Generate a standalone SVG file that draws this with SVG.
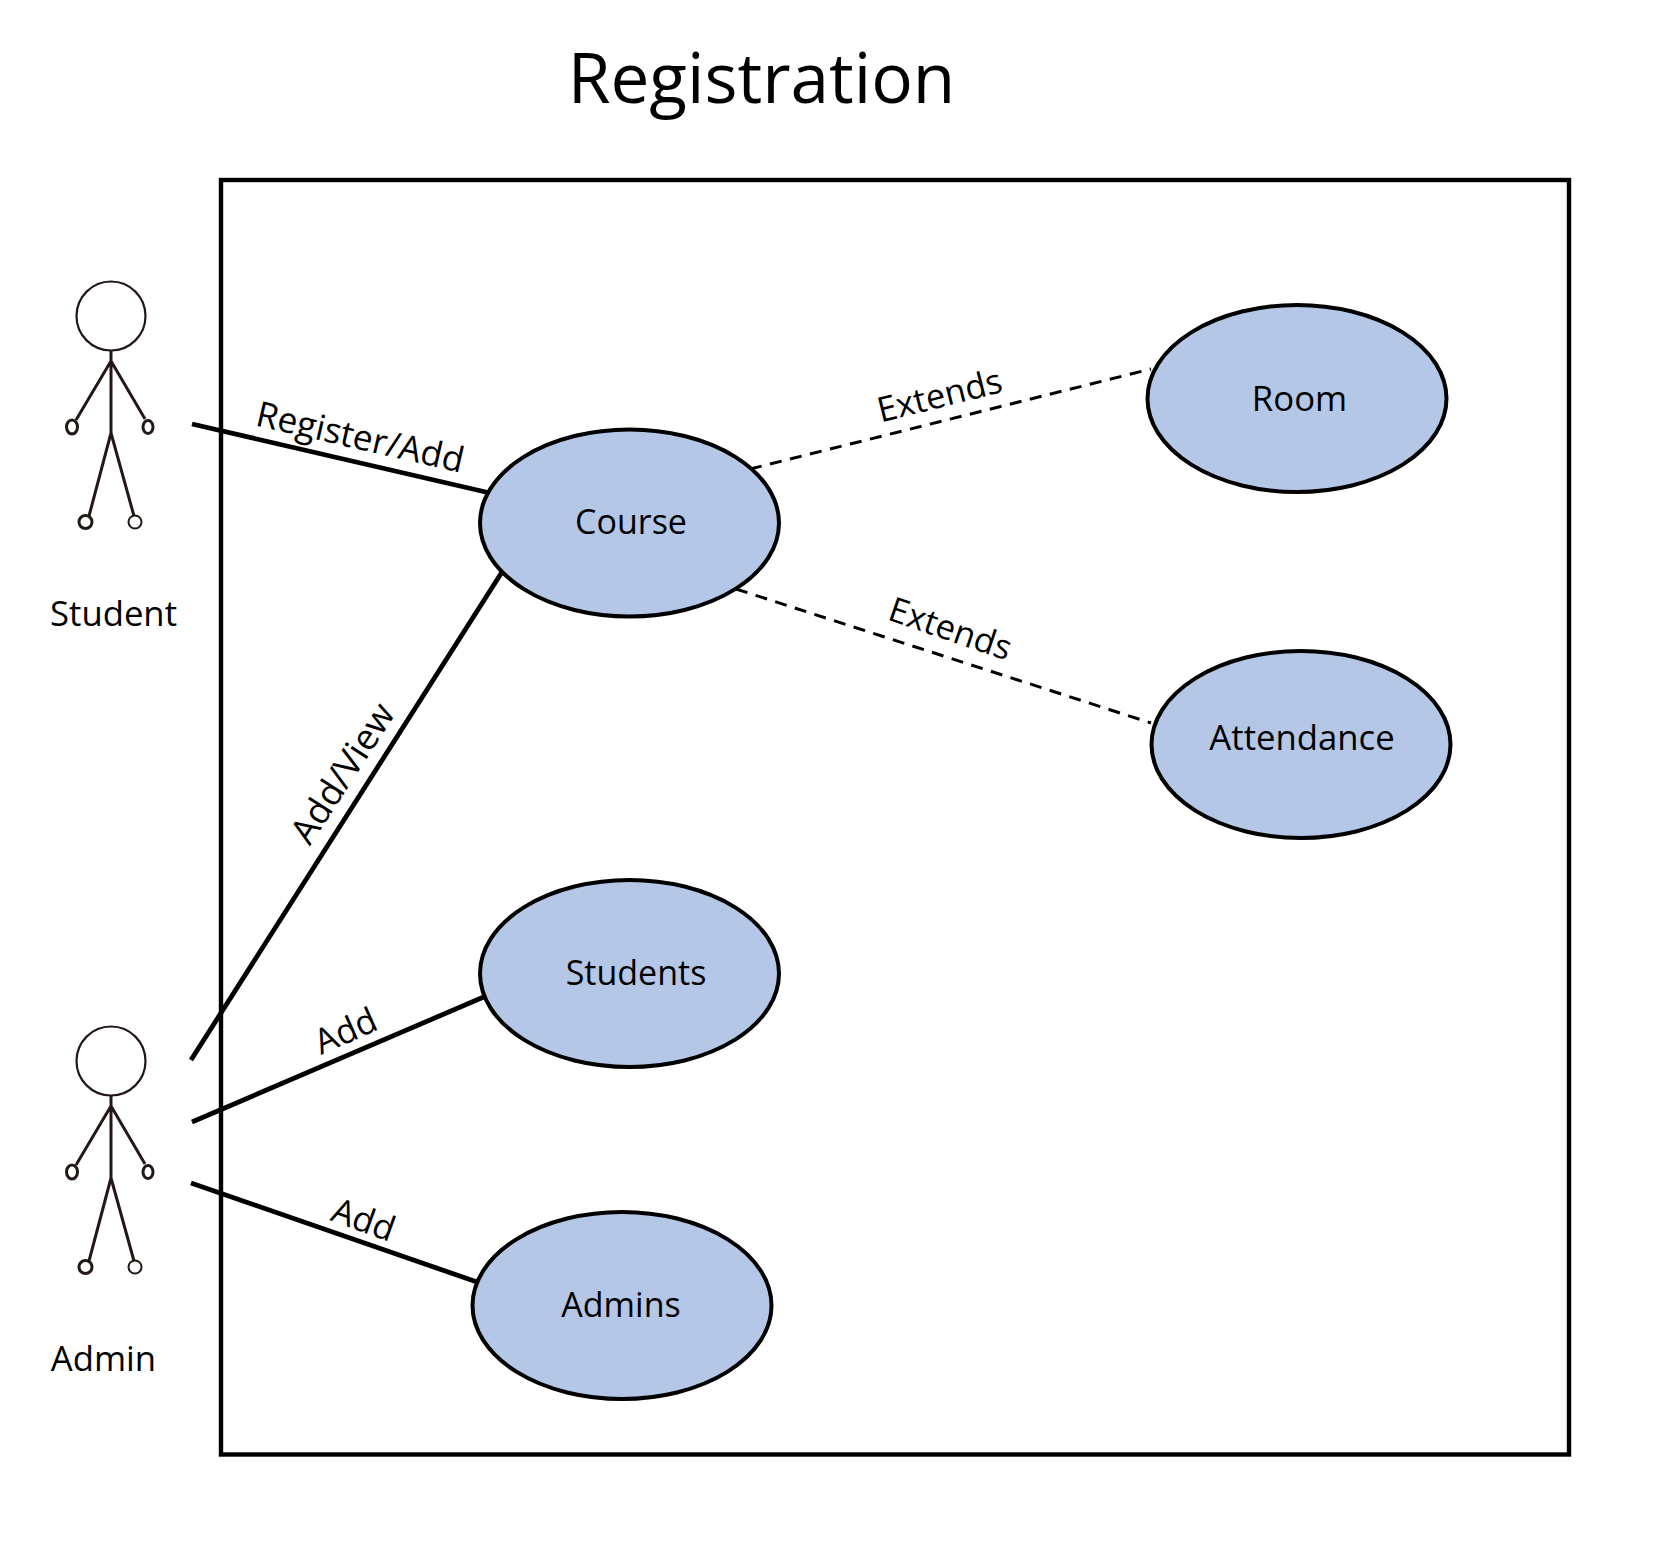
<svg xmlns="http://www.w3.org/2000/svg" width="1677" height="1552" viewBox="0 0 1677 1552">
<defs>
<g id="actor" fill="none" stroke="#231815">
<circle cx="0" cy="0" r="34.5" fill="#fff" stroke-width="2.2"/>
<path d="M0 35V117M0 45L-35 104M0 45L34 103M0 117L-22 200M0 117L23 200" stroke-width="3"/>
<ellipse cx="-39" cy="111" rx="5.5" ry="7" stroke-width="3"/><ellipse cx="37" cy="111" rx="5" ry="6.5" stroke-width="3"/>
<circle cx="-25.5" cy="206" r="6.5" stroke-width="3"/><circle cx="24" cy="206" r="6.5" stroke-width="2"/>
</g>
</defs>
<style>
text{font-family:"Open Sans","Noto Sans","Liberation Sans",sans-serif;fill:#000;text-anchor:middle}
.t{font-size:34.7px}
.s{font-size:34px}
.box{fill:none;stroke:#000;stroke-width:4.4}
.uc{fill:#b4c7e7;stroke:#000;stroke-width:4}
.c{fill:none;stroke:#000;stroke-width:4.8}
.d{fill:none;stroke:#000;stroke-width:3;stroke-dasharray:12 8.6}
</style>
<rect width="1677" height="1552" fill="#fff"/>
<text x="761.5" y="102.5" style="font-size:69.3px">Registration</text>
<rect class="box" x="221" y="180" width="1348" height="1274.5"/>
<g id="connectors">
<path class="c" d="M192 424L490 493"/>
<path class="c" d="M191 1060L502 572"/>
<path class="c" d="M192 1122L486 996"/>
<path class="c" d="M191 1183L477 1282"/>
<path class="d" d="M750 469L1151 369"/>
<path class="d" d="M736 589L1151 723"/>
</g>
<g id="student"><use href="#actor" x="111" y="316"/><text class="t" x="113.5" y="626">Student</text></g>
<g id="admin"><use href="#actor" x="111" y="1061"/><text class="t" x="103.5" y="1371">Admin</text></g>
<g id="course"><ellipse class="uc" cx="629.5" cy="523" rx="149.5" ry="93.5"/><text class="s" x="631" y="534">Course</text></g>
<g id="room"><ellipse class="uc" cx="1297" cy="398.5" rx="149.5" ry="93.5"/><text class="t" x="1299.5" y="411">Room</text></g>
<g id="attendance"><ellipse class="uc" cx="1301" cy="744.5" rx="149.5" ry="93.5"/><text class="t" x="1302" y="750">Attendance</text></g>
<g id="students"><ellipse class="uc" cx="629.5" cy="973.5" rx="149.5" ry="93.5"/><text class="s" x="636" y="985">Students</text></g>
<g id="admins"><ellipse class="uc" cx="622" cy="1305.5" rx="149.5" ry="93.5"/><text class="s" x="621" y="1317">Admins</text></g>
<g id="labels">
<text style="font-size:35.3px" transform="translate(357.5 449) rotate(13)">Register/Add</text>
<text style="font-size:36px" transform="translate(353 780) rotate(-57)">Add/View</text>
<text class="t" transform="translate(350.5 1042) rotate(-24)">Add</text>
<text class="t" transform="translate(359.5 1231) rotate(20)">Add</text>
<text style="font-size:34.4px" transform="translate(942.5 407) rotate(-14)">Extends</text>
<text style="font-size:34.4px" transform="translate(946.5 640) rotate(19)">Extends</text>
</g>
</svg>
